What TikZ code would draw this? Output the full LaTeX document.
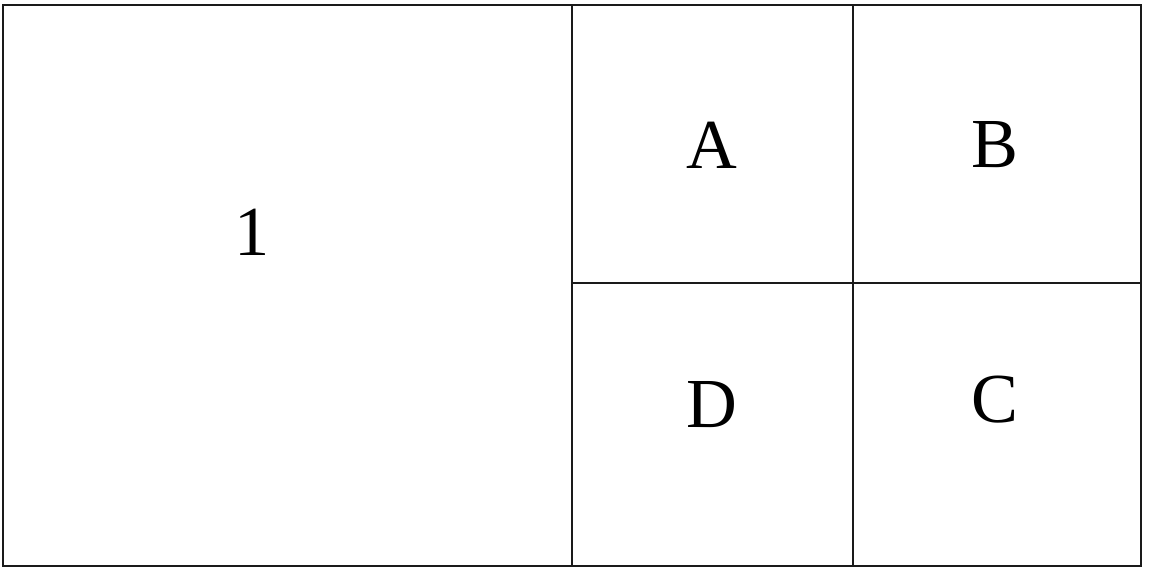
\documentclass[tikz,border=0pt]{standalone}
\usepackage{fontspec}
\setmainfont{Liberation Serif}
\usepackage{xcolor}
\definecolor{GridBlack}{HTML}{1A1A1A}
\tikzset{
    % Grid lines
    gridline/.style={
        draw=GridBlack,
        line width=1.1pt
    },
    % Cell labels
    cellname/.style={
        font=\fontsize{40}{48}\selectfont,
        inner sep=0pt
    }
}
\begin{document}
\begin{tikzpicture}
    \useasboundingbox (0,0) rectangle (22.98,11.36);

    % Outer frame and divisions
    \draw[gridline] (0.06,0.04) rectangle (22.82,11.26);
    \draw[gridline] (11.44,0.04) -- (11.44,11.26);
    \draw[gridline] (17.06,0.04) -- (17.06,11.26);
    \draw[gridline] (11.44,5.70) -- (22.82,5.70);

    % Labels
    \node[cellname] (one) at (5.04,6.72) {1};
    \node[cellname] (a) at (14.24,8.46) {A};
    \node[cellname] (b) at (19.90,8.46) {B};
    \node[cellname] (d) at (14.24,3.26) {D};
    \node[cellname] (c) at (19.90,3.36) {C};
\end{tikzpicture}
\end{document}
